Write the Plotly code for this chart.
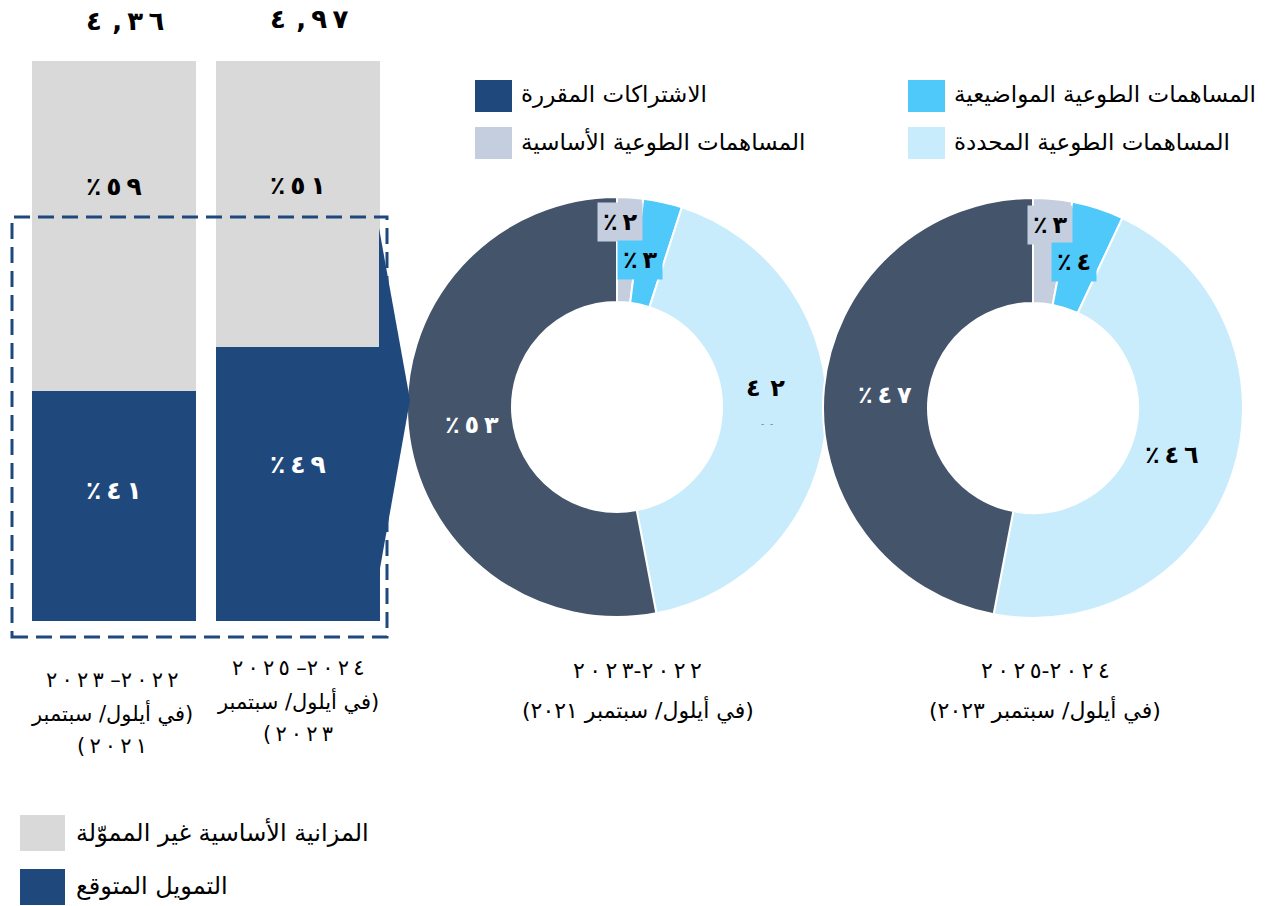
import plotly.graph_objects as go

W, H = 1269, 906

# ---------------- data ----------------
bar_periods = ["٢٠٢٢-٢٠٢٣", "٢٠٢٤-٢٠٢٥"]
bar_as_of = ["٢٠٢١", "٢٠٢٣"]
expected_funding = [41, 49]          # التمويل المتوقع (%)
unfunded_core = [59, 51]             # المزانية الأساسية غير المموّلة (%)
bar_totals = ["٤,٣٦", "٤,٩٧"]
funded_labels = ["٤١", "٤٩"]
unfunded_labels = ["٥٩", "٥١"]

donut_slices = ["المساهمات الطوعية الأساسية", "المساهمات الطوعية المواضيعية",
                "المساهمات الطوعية المحددة", "الاشتراكات المقررة"]
donut_2022 = [2, 3, 42, 53]
donut_2024 = [3, 4, 46, 47]
donut_2022_labels = ["٢", "٣", "٤٢", "٥٣"]
donut_2022_pct = [True, True, False, True]
donut_2024_labels = ["٣", "٤", "٤٦", "٤٧"]
donut_2024_pct = [True, True, True, True]

as_of_text = "(في أيلول/ سبتمبر"
bar_legend = ["المزانية الأساسية غير المموّلة", "التمويل المتوقع"]

# ---------------- styles ----------------
FONT = "DejaVu Sans, Liberation Sans, sans-serif"
C_BLUE = "#1F497D"
C_GRAY = "#D9D9D9"
C_SLATE = "#44546A"
C_CORE = "#C5CEDF"
C_THEM = "#4FC9FA"
C_EARM = "#C8ECFC"
slice_colors = [C_CORE, C_THEM, C_EARM, C_SLATE]
TS = "\u2009"  # thin space


def X(p):
    return p / W


def Y(p):
    return 1 - p / H


def rtl(s):
    return "\u202B" + s + "\u202C"


def ltr_visual(s, sep=TS):
    """show characters in the given visual order, slightly letter-spaced"""
    return "\u202D" + sep.join(s) + "\u202C"


def pct(s):
    return ltr_visual("٪" + s)


def period_visual(p, dash):
    a, b = p.split("-")
    return ltr_visual(b) + dash + ltr_visual(a)


fig = go.Figure()

# stacked bars
fig.add_trace(go.Bar(x=[0, 1], y=expected_funding, marker=dict(color=C_BLUE, line=dict(width=0)),
                     name=bar_legend[1], showlegend=False, hoverinfo="y"))
fig.add_trace(go.Bar(x=[0, 1], y=unfunded_core, marker=dict(color=C_GRAY, line=dict(width=0)),
                     name=bar_legend[0], showlegend=False, hoverinfo="y"))

# donuts
R = 210
for vals, cx, cy in [(donut_2022, 617, 407), (donut_2024, 1033, 408)]:
    fig.add_trace(go.Pie(
        values=vals, labels=donut_slices, sort=False, direction="clockwise", rotation=0,
        hole=0.5, textinfo="none", showlegend=False,
        marker=dict(colors=slice_colors, line=dict(color="white", width=2)),
        domain=dict(x=[X(cx - R), X(cx + R)], y=[Y(cy + R), Y(cy - R)]),
    ))

ann = []
# bar percentage labels
blue_shift = [16, 19]
gray_shift = [40, 18]
for i in range(2):
    ann.append(dict(x=i, y=expected_funding[i] / 2, xref="x", yref="y", text=pct(funded_labels[i]),
                    showarrow=False, yshift=blue_shift[i],
                    font=dict(family=FONT, size=25, color="white", weight="bold")))
    ann.append(dict(x=i, y=expected_funding[i] + unfunded_core[i] / 2, xref="x", yref="y",
                    text=pct(unfunded_labels[i]), showarrow=False, yshift=gray_shift[i],
                    font=dict(family=FONT, size=25, color="black", weight="bold")))
    a, b = bar_totals[i].split(",")
    tot = "\u202D" + a + TS + TS + "," + TS + TS.join(b) + "\u202C"
    ann.append(dict(x=i, y=expected_funding[i] + unfunded_core[i], xref="x", yref="y",
                    text=tot, showarrow=False, yshift=40 + 2 * i, xshift=11,
                    font=dict(family=FONT, size=26, color="black", weight="bold")))

# bar captions
for i, cx in enumerate([112, 298]):
    lines = [period_visual(bar_periods[i], " –"), rtl(as_of_text), ltr_visual("(" + bar_as_of[i])]
    base = [680, 713, 746] if i == 0 else [668, 701, 734]
    for ln, yy in zip(lines, base):
        ann.append(dict(x=X(cx), y=Y(yy), xref="paper", yref="paper", text=ln, showarrow=False,
                        xanchor="center", yanchor="middle",
                        font=dict(family=FONT, size=21, color="black")))

# donut captions
for i, cx in enumerate([638, 1045]):
    lines = [period_visual(bar_periods[i], "-"), rtl(as_of_text + " " + bar_as_of[i] + ")")]
    for ln, yy in zip(lines, [670, 710]):
        ann.append(dict(x=X(cx), y=Y(yy), xref="paper", yref="paper", text=ln, showarrow=False,
                        xanchor="center", yanchor="middle",
                        font=dict(family=FONT, size=22, color="black")))

# donut slice labels
pos_2022 = [(620, 222, C_CORE, "black"), (640, 260, C_THEM, "black"), (765, 388, None, "black"),
            (472, 425, None, "white")]
pos_2024 = [(1050, 225, C_CORE, "black"), (1074, 262, C_THEM, "black"), (1172, 455, None, "black"),
            (885, 395, None, "white")]
for labels, flags, poss in [(donut_2022_labels, donut_2022_pct, pos_2022),
                            (donut_2024_labels, donut_2024_pct, pos_2024)]:
    for lab, fl, (x, y, bg, col) in zip(labels, flags, poss):
        d = dict(x=X(x), y=Y(y), xref="paper", yref="paper",
                 text=pct(lab) if fl else ltr_visual(lab, TS + TS), showarrow=False,
                 xanchor="center", yanchor="middle",
                 font=dict(family=FONT, size=24, color=col, weight="bold"))
        if bg:
            d.update(bgcolor=bg, borderpad=5)
        ann.append(d)
ann.append(dict(x=X(767), y=Y(424), xref="paper", yref="paper", text="-  -", showarrow=False,
                font=dict(family=FONT, size=9, color="#777777")))

shapes = []
# top legend (donuts)
top_leg = [(475, 80, C_BLUE, donut_slices[3]), (475, 127, C_CORE, donut_slices[0]),
           (908, 80, C_THEM, donut_slices[1]), (908, 127, C_EARM, donut_slices[2])]
for x, y, col, txt in top_leg:
    shapes.append(dict(type="rect", xref="paper", yref="paper", x0=X(x), x1=X(x + 37),
                       y0=Y(y + 32), y1=Y(y), fillcolor=col, line=dict(width=0)))
    ann.append(dict(x=X(x + 44), y=Y(y + 15), xref="paper", yref="paper", text=rtl(txt),
                    showarrow=False, xanchor="left", yanchor="middle",
                    font=dict(family=FONT, size=23, color="black")))

# bottom-left legend (bars)
bot_leg = [(20, 815, C_GRAY, bar_legend[0]), (20, 869, C_BLUE, bar_legend[1])]
for x, y, col, txt in bot_leg:
    shapes.append(dict(type="rect", xref="paper", yref="paper", x0=X(x), x1=X(x + 45),
                       y0=Y(y + 36), y1=Y(y), fillcolor=col, line=dict(width=0)))
    ann.append(dict(x=X(x + 54), y=Y(y + 17), xref="paper", yref="paper", text=rtl(txt),
                    showarrow=False, xanchor="left", yanchor="middle",
                    font=dict(family=FONT, size=24, color="black")))

# arrow connecting bars to donut
shapes.append(dict(type="path", xref="paper", yref="paper",
                   path=f"M {X(379)},{Y(228)} L {X(410)},{Y(400)} L {X(379)},{Y(574)} Z",
                   fillcolor=C_BLUE, line=dict(width=0), layer="above"))
# dashed highlight box
shapes.append(dict(type="rect", xref="paper", yref="paper", x0=X(12), x1=X(387),
                   y0=Y(637), y1=Y(217), line=dict(color=C_BLUE, width=3, dash="16px,8px"),
                   fillcolor="rgba(0,0,0,0)", layer="above"))

fig.update_layout(
    width=W, height=H, margin=dict(l=0, r=0, t=0, b=0),
    paper_bgcolor="white", plot_bgcolor="white",
    barmode="stack", bargap=0.109,
    xaxis=dict(domain=[X(22), X(390)], range=[-0.5, 1.5], visible=False, fixedrange=True),
    yaxis=dict(domain=[Y(621), Y(61)], range=[0, 100], visible=False, fixedrange=True),
    annotations=ann, shapes=shapes, showlegend=False,
)

fig.write_html("out.html")
